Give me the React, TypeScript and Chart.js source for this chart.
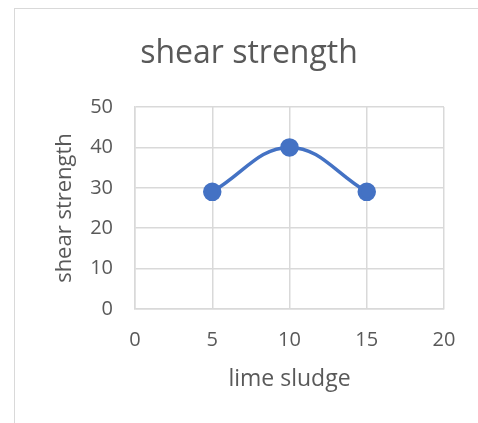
import React, { useEffect, useRef } from "react";
import { Chart, registerables } from "chart.js";

Chart.register(...registerables);

const xValues = [5, 10, 15];
const shearStrength = [29, 40, 29];
const chartTitle = "shear strength";
const xAxisTitle = "lime sludge";
const yAxisTitle = "shear strength";

const FONT = "'Open Sans', sans-serif";
const GRAY = "#595959";
const GRID = "#d9d9d9";
const BLUE = "#4472C4";

export default function App() {
  const ref = useRef<HTMLCanvasElement | null>(null);

  useEffect(() => {
    if (!ref.current) return;
    const chart = new Chart(ref.current, {
      type: "scatter",
      data: {
        datasets: [
          {
            data: xValues.map((x, i) => ({ x, y: shearStrength[i] })),
            showLine: true,
            borderColor: BLUE,
            backgroundColor: BLUE,
            borderWidth: 3.5,
            pointRadius: 7.5,
            pointBackgroundColor: BLUE,
            pointBorderColor: BLUE,
            tension: 0.4,
          },
        ],
      },
      options: {
        responsive: false,
        animation: false,
        devicePixelRatio: 1,
        layout: { padding: { left: 54, right: 34, top: 0, bottom: 0 } },
        plugins: {
          legend: { display: false },
          tooltip: { enabled: false },
          title: {
            display: true,
            text: chartTitle,
            color: GRAY,
            font: { family: FONT, size: 32, weight: "normal", lineHeight: 1.2 },
            padding: { top: 35, bottom: 107 - 35 - 38.4 },
          },
        },
        scales: {
          x: {
            type: "linear",
            min: 0,
            max: 20,
            ticks: {
              stepSize: 5,
              color: GRAY,
              font: { family: FONT, size: 20 },
              padding: 19,
            },
            grid: { color: GRID, lineWidth: 1.5, drawTicks: false },
            border: { color: GRID, width: 1.5 },
            title: {
              display: true,
              text: xAxisTitle,
              color: GRAY,
              font: { family: FONT, size: 23, lineHeight: 1.2 },
              padding: { top: 0, bottom: 30 },
            },
            afterFit: (s: any) => {
              s.height = 114;
            },
          },
          y: {
            type: "linear",
            min: 0,
            max: 50,
            ticks: {
              stepSize: 10,
              color: GRAY,
              font: { family: FONT, size: 20 },
              padding: 22,
            },
            grid: { color: GRID, lineWidth: 1.5, drawTicks: false },
            border: { color: GRID, width: 1.5 },
            title: {
              display: true,
              text: yAxisTitle,
              color: GRAY,
              font: { family: FONT, size: 22, lineHeight: 1.2 },
              padding: { top: -2.2, bottom: 0 },
            },
            afterFit: (s: any) => {
              s.width = 81;
            },
          },
        },
      },
    });
    return () => chart.destroy();
  }, []);

  return (
    <div style={{ position: "fixed", left: 0, top: 0, width: 478, height: 423, overflow: "hidden", background: "#fff" }}>
      <div
        style={{
          position: "absolute",
          left: 14,
          top: 8,
          width: 520,
          height: 500,
          border: "1px solid #d9d9d9",
          boxSizing: "border-box",
        }}
      />
      <canvas ref={ref} width={478} height={423} style={{ position: "absolute", left: 0, top: 0, width: 478, height: 423 }} />
    </div>
  );
}
